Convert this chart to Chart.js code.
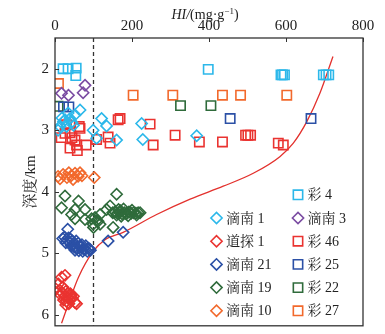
<!DOCTYPE html>
<html>
<head>
<meta charset="utf-8">
<style>
  html, body { margin: 0; padding: 0; background: #fff; }
  #wrap { width: 385px; height: 334px; position: relative; }
</style>
</head>
<body>
<div id="wrap"><canvas id="chartHI" width="385" height="334"></canvas></div>
<script src="https://cdn.jsdelivr.net/npm/chart.js@4.4.0/dist/chart.umd.min.js"></script>
<script>
(function () {
  "use strict";

  // axis ranges / ticks
  const HI_MIN = 0, HI_MAX = 800;
  const DEPTH_MIN = 1.5, DEPTH_MAX = 6.18;
  const HI_TICKS = [0, 200, 400, 600, 800];
  const DEPTH_TICKS = [2, 3, 4, 5, 6];

  // 滴南 1 (diamond)
  const dn1HI    = [65, 52, 22, 30, 13, 39, 44, 34, 8, 18, 26, 48, 99, 121, 134, 108, 160, 225, 228, 368];
  const dn1Depth = [2.67, 2.75, 2.86, 2.94, 2.94, 2.81, 2.87, 2.72, 3.0, 2.80, 2.83, 2.92, 3.0, 2.81, 2.93, 3.13, 3.16, 2.89, 3.15, 3.09];

  // 道探 1 (diamond)
  const dt1HI    = [17, 26, 9, 2, 12, 20, 28, 35, 42, 15, 25, 33, 40, 48, 22, 30, 38, 45, 52, 56, 18, 28, 36];
  const dt1Depth = [5.39, 5.36, 5.50, 5.58, 5.60, 5.55, 5.62, 5.65, 5.68, 5.68, 5.70, 5.72, 5.66, 5.70, 5.76, 5.78, 5.75, 5.73, 5.80, 5.82, 5.64, 5.84, 5.82];

  // 滴南 21 (diamond)
  const dn21HI    = [33, 138, 177, 20, 25, 30, 35, 40, 45, 28, 38, 48, 55, 60, 65, 70, 50, 58, 66, 74, 80, 86, 92, 42, 52, 62, 72, 78, 84, 90];
  const dn21Depth = [4.61, 4.80, 4.66, 4.76, 4.74, 4.78, 4.75, 4.77, 4.80, 4.83, 4.82, 4.85, 4.80, 4.84, 4.88, 4.86, 4.90, 4.92, 4.90, 4.93, 4.88, 4.92, 4.95, 4.88, 4.95, 4.96, 4.97, 4.94, 4.97, 4.93];

  // 滴南 19 (diamond)
  const dn19HI    = [26, 17, 61, 52, 78, 43, 52, 78, 108, 117, 134, 143, 160, 117, 151, 99, 104, 112, 95, 100,
                     150, 156, 162, 168, 174, 180, 186, 192, 198, 204, 210, 216, 221, 165, 172, 178, 190, 200, 212, 160, 170, 185];
  const dn19Depth = [4.07, 4.26, 4.15, 4.29, 4.29, 4.37, 4.44, 4.45, 4.47, 4.37, 4.29, 4.23, 4.04, 4.53, 4.58, 4.53, 4.42, 4.48, 4.44, 4.58,
                     4.34, 4.33, 4.35, 4.34, 4.36, 4.34, 4.35, 4.33, 4.35, 4.34, 4.35, 4.34, 4.34, 4.29, 4.40, 4.28, 4.39, 4.30, 4.38, 4.38, 4.31, 4.36];

  // 滴南 10 (diamond)
  const dn10HI    = [8, 13, 21, 31, 36, 42, 47, 52, 60, 65, 70, 102];
  const dn10Depth = [3.75, 3.79, 3.72, 3.77, 3.69, 3.74, 3.80, 3.70, 3.75, 3.69, 3.74, 3.77];

  // 彩 4 (square)
  const c4HI    = [21, 34, 55, 54, 398, 587, 591, 596, 697, 704, 711];
  const c4Depth = [2.0, 2.0, 1.99, 2.11, 2.01, 2.10, 2.10, 2.10, 2.10, 2.10, 2.10];

  // 滴南 3 (diamond)
  const dn3HI    = [17, 35, 78, 73];
  const dn3Depth = [2.40, 2.43, 2.27, 2.39];

  // 彩 46 (square)
  const c46HI    = [30, 63, 26, 39, 52, 39, 56, 58, 81, 108, 138, 143, 164, 169, 247, 255, 312, 375, 435, 495, 501, 508, 580, 593, 65, 16, 44];
  const c46Depth = [2.91, 2.94, 3.05, 3.04, 3.16, 3.29, 3.24, 3.33, 3.24, 3.15, 3.11, 3.21, 2.83, 2.81, 2.90, 3.24, 3.08, 3.19, 3.19, 3.08, 3.08, 3.08, 3.21, 3.24, 2.97, 3.12, 3.12];

  // 彩 25 (square)
  const c25HI    = [22, 36, 455, 665];
  const c25Depth = [2.62, 2.62, 2.81, 2.81];

  // 彩 22 (square)
  const c22HI    = [8, 326, 405];
  const c22Depth = [2.61, 2.60, 2.60];

  // 彩 27 (square)
  const c27HI    = [9, 203, 306, 435, 482, 602];
  const c27Depth = [2.24, 2.43, 2.43, 2.43, 2.43, 2.43];

  // trend curve + HI = 100 reference line
  const curveHI    = [17, 35, 61, 99, 130, 177, 264, 351, 437, 515, 584, 619, 654, 688, 722];
  const curveDepth = [6.14, 5.82, 5.39, 4.97, 4.78, 4.66, 4.37, 4.12, 3.91, 3.70, 3.43, 3.21, 2.86, 2.40, 1.80];
  const refHI    = [100, 100];
  const refDepth = [DEPTH_MIN, DEPTH_MAX];

  const LEGEND_LEFT  = ["滴南 1", "道探 1", "滴南 21", "滴南 19", "滴南 10"];
  const LEGEND_RIGHT = ["彩 4", "滴南 3", "彩 46", "彩 25", "彩 22", "彩 27"];

  const CYAN = "#2cb8ea";
  const RED = "#ea3330";
  const BLUE = "#2b50a6";
  const GREEN = "#2f6b3b";
  const ORANGE = "#f2692c";
  const PURPLE = "#7a4ba2";
  const INK = "#222";
  const SERIF = '"Liberation Serif", "Noto Serif CJK SC", "Noto Sans CJK SC", serif';

  function zip(xs, ys) {
    return xs.map((x, i) => ({ x: x, y: ys[i] }));
  }

  const series = [
    { label: "滴南 1",  hi: dn1HI,  depth: dn1Depth,  color: CYAN,   style: "rectRot" },
    { label: "滴南 3",  hi: dn3HI,  depth: dn3Depth,  color: PURPLE, style: "rectRot" },
    { label: "彩 4",    hi: c4HI,   depth: c4Depth,   color: CYAN,   style: "rect" },
    { label: "彩 25",   hi: c25HI,  depth: c25Depth,  color: BLUE,   style: "rect" },
    { label: "彩 22",   hi: c22HI,  depth: c22Depth,  color: GREEN,  style: "rect" },
    { label: "彩 27",   hi: c27HI,  depth: c27Depth,  color: ORANGE, style: "rect" },
    { label: "彩 46",   hi: c46HI,  depth: c46Depth,  color: RED,    style: "rect" },
    { label: "滴南 10", hi: dn10HI, depth: dn10Depth, color: ORANGE, style: "rectRot" },
    { label: "滴南 19", hi: dn19HI, depth: dn19Depth, color: GREEN,  style: "rectRot" },
    { label: "滴南 21", hi: dn21HI, depth: dn21Depth, color: BLUE,   style: "rectRot" },
    { label: "道探 1",  hi: dt1HI,  depth: dt1Depth,  color: RED,    style: "rectRot" }
  ];

  function radiusFor(style) {
    return style === "rect" ? 6.6 : 5.6;
  }

  const datasets = series.map((s) => ({
    label: s.label,
    data: zip(s.hi, s.depth),
    pointStyle: s.style,
    pointRadius: radiusFor(s.style),
    pointBorderWidth: 1.6,
    pointBorderColor: s.color,
    pointBackgroundColor: "rgba(255,255,255,0)",
    borderColor: s.color,
    showLine: false
  }));

  datasets.push({
    label: "curve",
    data: zip(curveHI, curveDepth),
    showLine: true,
    borderColor: "#e3312d",
    borderWidth: 1.3,
    pointRadius: 0,
    cubicInterpolationMode: "monotone"
  });
  datasets.push({
    label: "ref",
    data: zip(refHI, refDepth),
    showLine: true,
    borderColor: "#333",
    borderWidth: 1.3,
    borderDash: [4, 3],
    pointRadius: 0
  });

  // frame, inward ticks, axis titles
  const framePlugin = {
    id: "frame",
    afterDraw(chart) {
      const ctx = chart.ctx;
      const a = chart.chartArea;
      const xs = chart.scales.x, ys = chart.scales.y;
      ctx.save();
      ctx.strokeStyle = "#333";
      ctx.lineWidth = 1.3;
      ctx.strokeRect(a.left, a.top, a.right - a.left, a.bottom - a.top);
      ctx.beginPath();
      xs.ticks.forEach((t) => {
        const px = Math.round(xs.getPixelForValue(t.value)) + 0.5;
        ctx.moveTo(px, a.top);
        ctx.lineTo(px, a.top + 4);
      });
      ys.ticks.forEach((t) => {
        const py = Math.round(ys.getPixelForValue(t.value)) + 0.5;
        ctx.moveTo(a.left, py);
        ctx.lineTo(a.left + 4, py);
      });
      ctx.lineWidth = 1;
      ctx.stroke();

      // top title: HI/(mg·g⁻¹)
      ctx.fillStyle = INK;
      ctx.textBaseline = "alphabetic";
      const parts = [
        { t: "HI/", f: "italic 14px " + SERIF, dy: 0 },
        { t: "(mg\u00b7g", f: "14px " + SERIF, dy: 0 },
        { t: "\u22121", f: "9px " + SERIF, dy: -5 },
        { t: ")", f: "14px " + SERIF, dy: 0 }
      ];
      let total = 0;
      parts.forEach((p) => { ctx.font = p.f; p.w = ctx.measureText(p.t).width; total += p.w; });
      let x = (a.left + a.right) / 2 - 4 - total / 2;
      parts.forEach((p) => {
        ctx.font = p.f;
        ctx.textAlign = "left";
        ctx.fillText(p.t, x, 19 + p.dy);
        x += p.w;
      });

      // left title
      ctx.translate(31, (a.top + a.bottom) / 2);
      ctx.rotate(-Math.PI / 2);
      ctx.font = "15px " + SERIF;
      ctx.textAlign = "center";
      ctx.textBaseline = "middle";
      ctx.fillText("深度/km", 0, 0);
      ctx.restore();
    }
  };

  // in-plot two column legend
  const legendPlugin = {
    id: "inLegend",
    afterDraw(chart) {
      const ctx = chart.ctx;
      const a = chart.chartArea;
      const rowY = (i) => a.bottom - 15 - (5 - i) * 23.2;
      const byLabel = {};
      series.forEach((s) => { byLabel[s.label] = s; });
      ctx.save();
      ctx.font = "14px " + SERIF;
      ctx.textBaseline = "middle";
      ctx.textAlign = "left";
      const drawEntry = (label, mx, tx, y) => {
        const s = byLabel[label];
        ctx.strokeStyle = s.color;
        ctx.fillStyle = "rgba(255,255,255,0)";
        ctx.lineWidth = 1.6;
        Chart.helpers.drawPoint(ctx, {
          pointStyle: s.style,
          radius: radiusFor(s.style),
          borderWidth: 1.6,
          rotation: 0
        }, mx, y);
        ctx.fillStyle = INK;
        ctx.fillText(label, tx, y + 1);
      };
      LEGEND_LEFT.forEach((lb, i) => drawEntry(lb, a.right - 146.5, a.right - 137, rowY(i + 1)));
      LEGEND_RIGHT.forEach((lb, i) => drawEntry(lb, a.right - 65, a.right - 55.5, rowY(i)));
      ctx.restore();
    }
  };

  const canvas = document.getElementById("chartHI");
  new Chart(canvas, {
    type: "scatter",
    data: { datasets: datasets },
    options: {
      responsive: false,
      animation: false,
      devicePixelRatio: 1,
      layout: { padding: { left: 0, top: 0, right: 22, bottom: 6 } },
      plugins: {
        legend: { display: false },
        tooltip: { enabled: false }
      },
      scales: {
        x: {
          type: "linear",
          position: "top",
          min: HI_MIN,
          max: HI_MAX,
          grid: { display: false, drawTicks: false },
          border: { display: false },
          ticks: {
            autoSkip: false,
            padding: 3,
            color: INK,
            font: { family: SERIF, size: 15 }
          },
          afterBuildTicks(scale) { scale.ticks = HI_TICKS.map((v) => ({ value: v })); },
          afterFit(scale) {
            scale.height = 38;
            scale.paddingLeft = 0;
            scale.paddingRight = 0;
          }
        },
        y: {
          type: "linear",
          reverse: true,
          min: DEPTH_MIN,
          max: DEPTH_MAX,
          grid: { display: false, drawTicks: false },
          border: { display: false },
          ticks: {
            autoSkip: false,
            padding: 6,
            color: INK,
            font: { family: SERIF, size: 15 }
          },
          afterBuildTicks(scale) { scale.ticks = DEPTH_TICKS.map((v) => ({ value: v })); },
          afterFit(scale) {
            scale.width = 55;
            scale.paddingTop = 0;
            scale.paddingBottom = 0;
          }
        }
      }
    },
    plugins: [framePlugin, legendPlugin]
  });
})();
</script>
</body>
</html>
